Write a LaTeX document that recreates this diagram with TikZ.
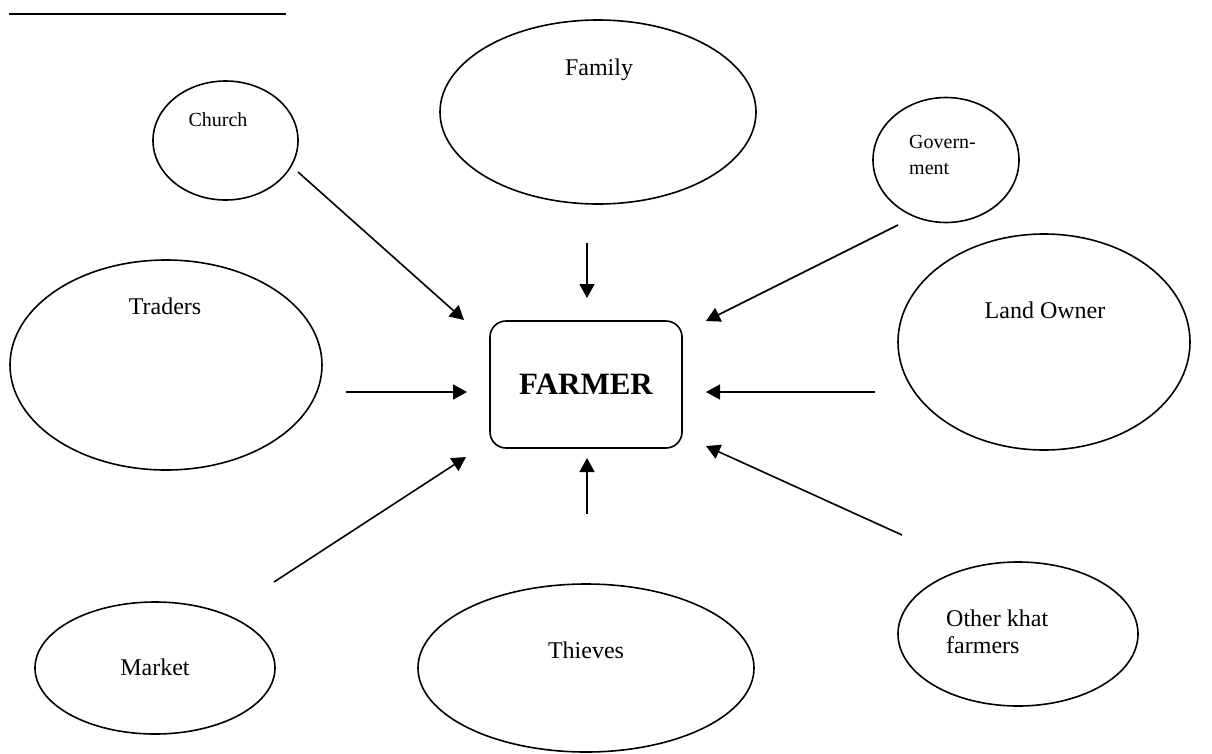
\documentclass[tikz,border=0pt]{standalone}
\usepackage{fontspec}
\setmainfont{Liberation Serif}
\usetikzlibrary{shapes.geometric,arrows.meta}
\begin{document}
\begin{tikzpicture}[x=1pt,y=-1pt,
  bubble/.style={draw,line width=1.6pt,ellipse,inner sep=0pt},
  lbl/.style={inner sep=0pt,font=\fontsize{24}{27}\selectfont},
  small/.style={inner sep=0pt,font=\fontsize{20}{26}\selectfont,align=left},
  link/.style={line width=1.6pt,-{Triangle[length=14pt,width=15pt]}}]
\useasboundingbox (0,0) rectangle (1212,753);
\fill[white] (0,0) rectangle (1212,753);
% top underline
\coordinate (ulA) at (9,14);
\coordinate (ulB) at (286,14);
\draw[line width=2pt] (ulA) -- (ulB);
% ellipses
\node[bubble,minimum width=145pt,minimum height=119pt] (church) at (225.5,140.5) {};
\node[bubble,minimum width=316pt,minimum height=184pt] (family) at (598,112) {};
\node[bubble,minimum width=146pt,minimum height=125pt] (gov) at (946,160) {};
\node[bubble,minimum width=312pt,minimum height=210pt] (traders) at (166,365) {};
\node[bubble,minimum width=292pt,minimum height=216pt] (land) at (1044,342) {};
\node[bubble,minimum width=240pt,minimum height=132pt] (market) at (155,668) {};
\node[bubble,minimum width=336pt,minimum height=168pt] (thieves) at (586,668) {};
\node[bubble,minimum width=240pt,minimum height=144pt] (other) at (1018,634) {};
\node[draw,line width=1.6pt,rounded corners=16pt,minimum width=192pt,minimum height=127pt,
  font=\fontsize{31}{35}\selectfont\bfseries] (farmer) at (586,384.5) {FARMER};
% labels
\node[small] (tchurch) at (218,120) {Church};
\node[lbl] (tfamily) at (599,70) {Family};
\node[small,anchor=west,align=left] (tgov) at (909,155) {Govern-\\ment};
\node[lbl] (ttraders) at (165,306) {Traders};
\node[lbl] (tland) at (1045,310) {Land Owner};
\node[lbl] (tmarket) at (155,667) {Market};
\node[lbl] (tthieves) at (586,650) {Thieves};
\node[lbl,anchor=west,align=left] (tother) at (946,632) {Other khat\\farmers};
% arrow endpoints
\coordinate (cA) at (298,172); \coordinate (cB) at (464,320);
\coordinate (fA) at (587,243); \coordinate (fB) at (587,298);
\coordinate (gA) at (898,225); \coordinate (gB) at (706,321);
\coordinate (tA) at (346,392); \coordinate (tB) at (467,392);
\coordinate (lA) at (875,392); \coordinate (lB) at (706,392);
\coordinate (mA) at (274,582); \coordinate (mB) at (466,457);
\coordinate (hA) at (587,514); \coordinate (hB) at (587,458);
\coordinate (oA) at (902,535); \coordinate (oB) at (706,446);
\draw[link] (cA) -- (cB);
\draw[link] (fA) -- (fB);
\draw[link] (gA) -- (gB);
\draw[link] (tA) -- (tB);
\draw[link] (lA) -- (lB);
\draw[link] (mA) -- (mB);
\draw[link] (hA) -- (hB);
\draw[link] (oA) -- (oB);
\end{tikzpicture}
\end{document}
